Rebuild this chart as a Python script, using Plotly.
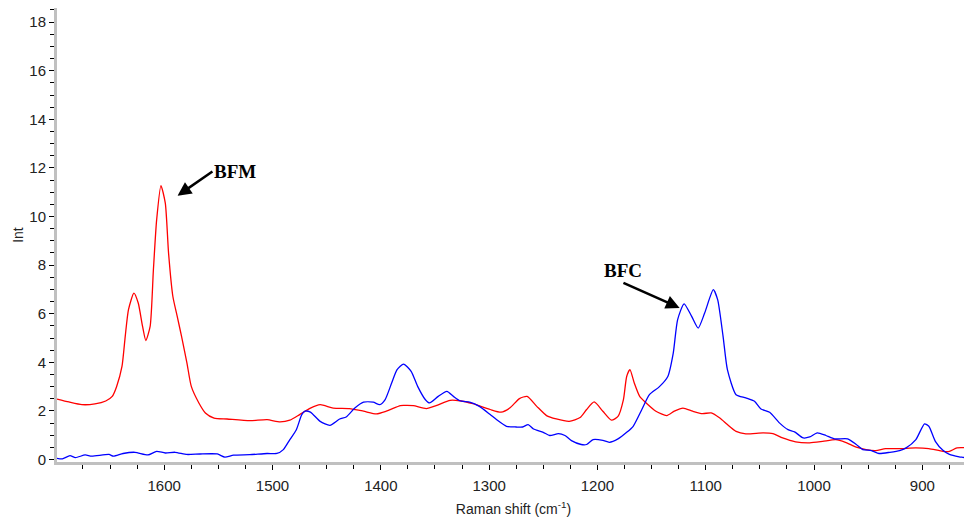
import plotly.graph_objects as go

# Raman shift (cm-1) and intensities
red_x = [1699, 1688, 1676, 1664, 1654, 1648, 1644, 1639, 1636, 1633, 1628, 1624, 1620, 1617, 1613,
         1610, 1607, 1603, 1599, 1596, 1592, 1588, 1584, 1579, 1575, 1568, 1562, 1554, 1542, 1521,
         1505, 1493, 1484, 1475, 1465, 1456, 1444, 1429, 1416, 1404, 1395, 1382, 1379, 1370, 1358,
         1349, 1336, 1327, 1315, 1299, 1289, 1281, 1272, 1265, 1256, 1247, 1238, 1226, 1216, 1210,
         1203, 1195, 1187, 1181, 1176, 1173, 1170, 1166, 1161, 1155, 1146, 1136, 1129, 1121, 1112,
         1103, 1095, 1087, 1080, 1072, 1063, 1047, 1038, 1029, 1017, 1004, 992, 980, 971, 961,
         952, 943, 934, 921, 906, 894, 881, 875, 868, 857]
red_y = [2.49, 2.37, 2.26, 2.29, 2.41, 2.6, 3.0, 3.83, 5.07, 6.17, 6.85, 6.44, 5.48, 4.9, 5.48,
         7.8, 9.86, 11.27, 10.55, 8.5, 6.71, 5.89, 5.07, 3.97, 3.01, 2.33, 1.92, 1.71, 1.67, 1.6,
         1.64, 1.55, 1.62, 1.85, 2.12, 2.26, 2.12, 2.1, 1.99, 1.88, 1.99, 2.22, 2.23, 2.22, 2.1,
         2.22, 2.44, 2.42, 2.3, 2.06, 1.95, 2.12, 2.51, 2.6, 2.19, 1.81, 1.67, 1.57, 1.73, 2.06,
         2.37, 1.99, 1.62, 1.78, 2.47, 3.42, 3.7, 3.15, 2.6, 2.33, 1.99, 1.81, 1.99, 2.12, 1.99,
         1.89, 1.92, 1.71, 1.44, 1.16, 1.06, 1.1, 1.07, 0.89, 0.73, 0.69, 0.75, 0.82, 0.71, 0.51,
         0.41, 0.37, 0.45, 0.45, 0.48, 0.45, 0.34, 0.34, 0.48, 0.48]

blue_x = [1699, 1694, 1687, 1682, 1673, 1667, 1651, 1647, 1638, 1627, 1615, 1607, 1599, 1590, 1579,
          1567, 1551, 1544, 1536, 1521, 1505, 1496, 1490, 1484, 1478, 1473, 1470, 1465, 1456, 1447,
          1438, 1432, 1424, 1416, 1407, 1401, 1396, 1390, 1385, 1379, 1372, 1366, 1359, 1355, 1347,
          1339, 1333, 1327, 1318, 1309, 1299, 1293, 1284, 1275, 1269, 1264, 1259, 1250, 1244, 1236,
          1230, 1224, 1215, 1210, 1204, 1195, 1189, 1181, 1173, 1167, 1159, 1152, 1143, 1135, 1130,
          1126, 1120, 1113, 1107, 1101, 1093, 1089, 1084, 1080, 1072, 1063, 1055, 1049, 1041, 1032,
          1024, 1018, 1010, 1004, 997, 989, 981, 969, 961, 955, 947, 940, 930, 921, 915,
          906, 898, 894, 888, 881, 875, 866, 860, 857]
blue_y = [0.05, 0.03, 0.16, 0.08, 0.19, 0.14, 0.21, 0.14, 0.25, 0.3, 0.19, 0.34, 0.27, 0.3, 0.21,
          0.23, 0.23, 0.1, 0.18, 0.2, 0.25, 0.25, 0.41, 0.82, 1.23, 1.85, 1.99, 1.95, 1.57, 1.41,
          1.67, 1.75, 2.12, 2.36, 2.36, 2.26, 2.47, 3.15, 3.7, 3.93, 3.63, 3.01, 2.47, 2.33, 2.6,
          2.81, 2.6, 2.42, 2.36, 2.19, 1.85, 1.64, 1.37, 1.34, 1.34, 1.44, 1.26, 1.12, 0.99, 1.07,
          0.99, 0.78, 0.62, 0.62, 0.82, 0.79, 0.71, 0.85, 1.12, 1.37, 2.06, 2.67, 2.99, 3.42, 4.38,
          5.75, 6.41, 5.89, 5.41, 6.03, 6.99, 6.58, 5.07, 3.7, 2.67, 2.54, 2.4, 2.08, 1.95, 1.51,
          1.23, 1.14, 0.89, 0.93, 1.1, 0.99, 0.85, 0.85, 0.62, 0.41, 0.37, 0.25, 0.3, 0.37, 0.48,
          0.82, 1.47, 1.37, 0.75, 0.38, 0.21, 0.11, 0.07, -0.03]

x_ticks = [1600, 1500, 1400, 1300, 1200, 1100, 1000, 900]
y_ticks = [0, 2, 4, 6, 8, 10, 12, 14, 16, 18]

fig = go.Figure()
fig.add_trace(go.Scatter(x=red_x, y=red_y, mode="lines",
                         line=dict(color="#ff0000", width=1.3, shape="spline", smoothing=0.6),
                         name="BFM", showlegend=False))
fig.add_trace(go.Scatter(x=blue_x, y=blue_y, mode="lines",
                         line=dict(color="#0000ff", width=1.3, shape="spline", smoothing=0.6),
                         name="BFC", showlegend=False))

axis_common = dict(showline=True, linecolor="#c0c0c0", linewidth=3, ticks="outside",
                   tickcolor="black", ticklen=5, tickwidth=1, showgrid=False, zeroline=False,
                   automargin=False,
                   tickfont=dict(family="Liberation Sans, Arial", size=15, color="#222"))

fig.update_xaxes(range=[1699, 856], tickvals=x_ticks, **axis_common, ticklabelstandoff=3,
                 minor=dict(dtick=25, ticklen=4, tickcolor="black", ticks="outside"),
                 title=dict(text="Raman shift (cm<sup>-1</sup>)", standoff=12,
                            font=dict(family="Liberation Sans, Arial", size=14, color="#222")))
fig.update_yaxes(range=[-0.1, 18.58], tickvals=y_ticks, **axis_common,
                 minor=dict(dtick=0.5, ticklen=4, tickcolor="black", ticks="outside"),
                 title=dict(text="Int", standoff=3,
                            font=dict(family="Liberation Sans, Arial", size=14, color="#222")))

ann_font = dict(family="Liberation Serif, Times New Roman", size=19, color="black")
# BFM label with arrow pointing at the 1602 cm-1 peak
fig.add_annotation(x=1587.7, y=10.86, ax=1555.5, ay=11.85, axref="x", ayref="y", xref="x", yref="y",
                   text="<b>BFM</b>", xanchor="left", showarrow=True, arrowhead=2, arrowsize=1.1,
                   arrowwidth=2.5, arrowcolor="black", font=ann_font)
# BFC label with arrow pointing at the 1120 cm-1 peak
fig.add_annotation(x=1124.1, y=6.24, ax=1176, ay=7.27, axref="x", ayref="y", xref="x", yref="y",
                   text="<b>BFC</b>", yanchor="bottom", showarrow=True, arrowhead=2, arrowsize=1.1,
                   arrowwidth=2.5, arrowcolor="black", font=ann_font)

# the page body adds an 8 px offset, so the figure is sized to fill the rest of the window
fig.update_layout(width=964, height=510, margin=dict(l=49, r=2, t=0, b=56),
                  plot_bgcolor="white", paper_bgcolor="white", showlegend=False)

fig.write_html("out.html")
